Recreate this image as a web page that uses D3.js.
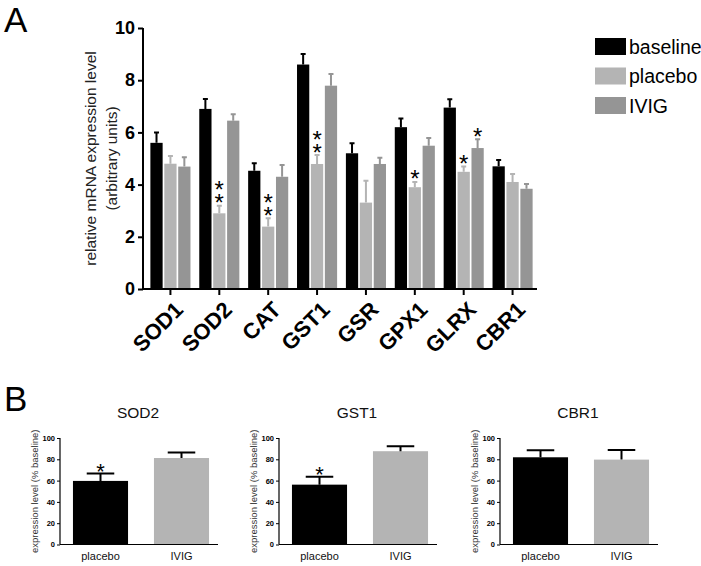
<!DOCTYPE html>
<html><head><meta charset="utf-8">
<script src="https://cdn.jsdelivr.net/npm/d3@7"></script>
<style>
body{margin:0;background:#fff;}
svg{display:block;font-family:"Liberation Sans",Arial,sans-serif;}
</style></head>
<body><svg id="c" width="701" height="566"></svg>
<script>
// ---- Panel A data ----
const genes = ["SOD1","SOD2","CAT","GST1","GSR","GPX1","GLRX","CBR1"];
const series = ["baseline","placebo","IVIG"];
const baselineMean = [5.6, 6.9, 4.53, 8.6, 5.2, 6.2, 6.95, 4.7];
const baselineSem  = [0.4, 0.38, 0.29, 0.4, 0.38, 0.33, 0.32, 0.24];
const placeboMean  = [4.8, 2.9, 2.39, 4.79, 3.31, 3.9, 4.49, 4.1];
const placeboSem   = [0.3, 0.29, 0.32, 0.34, 0.84, 0.2, 0.2, 0.31];
const ivigMean     = [4.69, 6.45, 4.3, 7.79, 4.79, 5.49, 5.4, 3.84];
const ivigSem      = [0.36, 0.25, 0.45, 0.45, 0.24, 0.3, 0.34, 0.18];
const placeboStars = ["", "**", "**", "**", "", "*", "*", ""];
const ivigStars    = ["", "", "", "", "", "", "*", ""];
const yTicksA = [0, 2, 4, 6, 8, 10];

// ---- Panel B data ----
const panelGenes = ["SOD2","GST1","CBR1"];
const conditions = ["placebo","IVIG"];
const placeboPct    = [59.7, 56.2, 81.9];
const placeboPctSem = [6.9, 7.4, 6.6];
const ivigPct       = [81.2, 87.6, 79.7];
const ivigPctSem    = [5.1, 4.7, 9.1];
const pctStars      = ["*", "*", ""];
const yTicksB = [0, 20, 40, 60, 80, 100];

const colors = {baseline:"#000000", placebo:"#b4b4b4", IVIG:"#959595"};
const colorsB = {placebo:"#000000", IVIG:"#b4b4b4"};

const svg = d3.select("#c");

// ================= Panel A =================
const yA = d3.scaleLinear().domain([0,10]).range([289,28]);
const xA = d3.scaleBand().domain(genes).range([145.5,537.5]).paddingInner(0.18).paddingOuter(0.1);
const xS = d3.scaleBand().domain(series).range([0, xA.bandwidth()]).paddingInner(0.12);

const rows = genes.map((g,i)=>({gene:g, values:[
  {s:"baseline", m:baselineMean[i], e:baselineSem[i], star:""},
  {s:"placebo", m:placeboMean[i], e:placeboSem[i], star:placeboStars[i]},
  {s:"IVIG", m:ivigMean[i], e:ivigSem[i], star:ivigStars[i]}
]}));

svg.append("text").attr("x",4).attr("y",32).attr("font-size",35).text("A");

const gA = svg.append("g");
const grp = gA.selectAll("g.grp").data(rows).join("g")
  .attr("transform", d=>`translate(${xA(d.gene)},0)`);

grp.selectAll("rect").data(d=>d.values).join("rect")
  .attr("x", d=>xS(d.s)).attr("width", xS.bandwidth())
  .attr("y", d=>yA(d.m)).attr("height", d=>yA(0)-yA(d.m))
  .attr("fill", d=>colors[d.s]);

// error bars
grp.selectAll("path.err").data(d=>d.values).join("path").attr("class","err")
  .attr("d", d=>{
    const cx = xS(d.s)+xS.bandwidth()/2, top = yA(d.m+d.e);
    return `M${cx},${yA(d.m)}V${top}M${cx-2.5},${top}H${cx+2.5}`;
  })
  .attr("stroke", d=>colors[d.s]).attr("stroke-width",2).attr("fill","none");

// stars: one text element, each asterisk placed with per-glyph x/y lists (stacked)
grp.each(function(d){
  const g = d3.select(this);
  d.values.forEach(v=>{
    if(!v.star) return;
    const cx = xS(v.s)+xS.bandwidth()/2;
    const top = yA(v.m+v.e);
    const n = v.star.length;
    const xs = [], ys = [];
    for(let k=n-1;k>=0;k--){ xs.push(cx); ys.push(top - 8 - k*13 + 13.5); }
    g.append("text").attr("text-anchor","middle").attr("font-size",24)
      .attr("x", xs.join(" ")).attr("y", ys.join(" ")).text(v.star);
  });
});

// y axis
const yAxisA = gA.append("g").attr("transform","translate(143,0)")
  .call(d3.axisLeft(yA).tickValues(yTicksA).tickSize(5).tickPadding(3).tickFormat(d3.format("d")));
yAxisA.select(".domain").attr("d",`M0,${yA(10)}V${yA(0)}`).attr("stroke-width",2);
yAxisA.selectAll(".tick line").attr("stroke-width",2);
yAxisA.selectAll(".tick text").attr("font-size",18).attr("font-weight","bold")
  .attr("font-family","Liberation Sans,Arial,sans-serif").attr("fill","#000");

// x axis
const xAxisA = gA.append("g").attr("transform",`translate(0,${yA(0)})`)
  .call(d3.axisBottom(xA).tickSize(6).tickFormat(""));
xAxisA.select(".domain").attr("d","M143,0H537").attr("stroke-width",2);
xAxisA.selectAll(".tick line").attr("stroke-width",2);
gA.selectAll("text.xl").data(genes).join("text").attr("class","xl")
  .attr("transform", d=>`translate(${xA(d)+xA.bandwidth()/2+14},311) rotate(-45)`)
  .attr("text-anchor","end").attr("font-size",22).attr("font-weight","bold").text(d=>d);

// y label
const yl = gA.append("text").attr("transform",`translate(0,${(yA(0)+yA(10))/2}) rotate(-90)`)
  .attr("text-anchor","middle").attr("font-size",15.5).attr("fill","#222");
yl.append("tspan").attr("x",0).attr("y",96).text("relative mRNA expression level");
yl.append("tspan").attr("x",0).attr("y",117).text("(arbitrary units)");

// legend
const leg = svg.append("g").selectAll("g").data(series).join("g")
  .attr("transform",(d,i)=>`translate(595,${38+i*29.5})`);
leg.append("rect").attr("width",31).attr("height",17).attr("fill",d=>colors[d]);
leg.append("text").attr("x",34).attr("y",15.5).attr("font-size",19.5).text(d=>d);

// ================= Panel B =================
svg.append("text").attr("x",4).attr("y",411).attr("font-size",35).text("B");

const yB = d3.scaleLinear().domain([0,100]).range([544.5,438]);
const panelX = [60, 279, 500];

panelGenes.forEach((gname,pi)=>{
  const x0 = panelX[pi];
  const xB = d3.scaleBand().domain(conditions).range([x0, x0+162]).paddingInner(0.32).paddingOuter(0.16);
  const vals = [
    {c:"placebo", m:placeboPct[pi], e:placeboPctSem[pi], star:pctStars[pi]},
    {c:"IVIG", m:ivigPct[pi], e:ivigPctSem[pi], star:""}
  ];
  const g = svg.append("g");
  g.append("text").attr("x",x0+78).attr("y",418).attr("text-anchor","middle")
    .attr("font-size",15.5).attr("fill","#111").text(gname);
  g.selectAll("rect").data(vals).join("rect")
    .attr("x",d=>xB(d.c)).attr("width",xB.bandwidth())
    .attr("y",d=>yB(d.m)).attr("height",d=>yB(0)-yB(d.m))
    .attr("fill",d=>colorsB[d.c]);
  g.selectAll("path.err").data(vals).join("path").attr("class","err")
    .attr("d",d=>{
      const cx = xB(d.c)+xB.bandwidth()/2, top = yB(d.m+d.e), hw = xB.bandwidth()/4;
      return `M${cx},${yB(d.m)}V${top}M${cx-hw},${top}H${cx+hw}`;
    })
    .attr("stroke","#000").attr("stroke-width",2).attr("fill","none");
  vals.forEach(v=>{
    if(!v.star) return;
    const cx = xB(v.c)+xB.bandwidth()/2;
    g.append("text").attr("x",cx).attr("y",yB(v.m+v.e)-7+12).attr("text-anchor","middle")
      .attr("font-size",22).text(v.star);
  });
  const ya = g.append("g").attr("transform",`translate(${x0},0)`)
    .call(d3.axisLeft(yB).tickValues(yTicksB).tickSize(3).tickPadding(2));
  ya.select(".domain").attr("d",`M0,${yB(100)}V${yB(0)}`).attr("stroke-width",1.2).attr("stroke","#000");
  ya.selectAll(".tick line").attr("stroke","#000");
  ya.selectAll(".tick text").attr("font-size",7.5).attr("font-weight","bold")
    .attr("font-family","Liberation Sans,Arial,sans-serif").attr("fill","#000");
  const xa = g.append("g").attr("transform",`translate(0,${yB(0)})`)
    .call(d3.axisBottom(xB).tickSize(0).tickPadding(8));
  xa.select(".domain").attr("d",`M${x0},0H${x0+158}`).attr("stroke-width",1.2).attr("stroke","#000");
  xa.selectAll(".tick text").attr("font-size",11).attr("font-family","Liberation Sans,Arial,sans-serif").attr("fill","#111");
  g.append("text").attr("transform",`translate(${x0-22},${(yB(0)+yB(100))/2}) rotate(-90)`)
    .attr("text-anchor","middle").attr("font-size",9.5).attr("fill","#333")
    .text("expression level (% baseline)");
});
</script></body></html>
